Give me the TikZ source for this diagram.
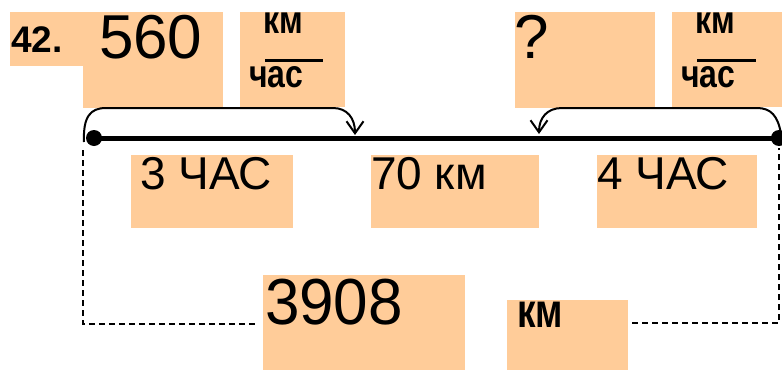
\documentclass[tikz,border=0pt]{standalone}
\usepackage{fontspec}
\setmainfont{Liberation Sans}
\usetikzlibrary{arrows.meta}
\definecolor{boxfill}{RGB}{255,204,153}
\begin{document}
\begin{tikzpicture}[x=1pt,y=-1pt,
  box/.style={fill=boxfill, draw=none, inner sep=0pt, outer sep=0pt, anchor=north west},
  lbl/.style={inner sep=0pt, outer sep=0pt, anchor=base west},
  big/.style={font=\fontsize{62}{62}\selectfont},
  mid/.style={font=\fontsize{46}{46}\selectfont},
  unit/.style={font=\bfseries\fontsize{32}{32}\selectfont},
  brace/.style={line width=2pt, -{Straight Barb[length=12pt,width=17pt,line width=2pt]}},
  dashline/.style={line width=1.5pt, dash pattern=on 6pt off 4pt},
  fracbar/.style={line width=3pt},
  dot/.style={circle, fill=black, inner sep=0pt, minimum size=16pt}]
\useasboundingbox (0,0) rectangle (782,370);
% boxes
\node[box, minimum width=73pt, minimum height=54pt] (b42) at (10,12) {};
\node[box, minimum width=140pt, minimum height=96pt] (b560) at (83,12) {};
\node[box, minimum width=105pt, minimum height=95pt] (bu1) at (240,12) {};
\node[box, minimum width=140pt, minimum height=96pt] (bq) at (515,12) {};
\node[box, minimum width=110pt, minimum height=95pt] (bu2) at (672,12) {};
\node[box, minimum width=162pt, minimum height=73pt] (b3) at (131,155) {};
\node[box, minimum width=168pt, minimum height=73pt] (b70) at (371,155) {};
\node[box, minimum width=160pt, minimum height=73pt] (b4) at (597,155) {};
\node[box, minimum width=202pt, minimum height=95pt] (b3908) at (263,275) {};
\node[box, minimum width=121pt, minimum height=70pt] (bkm) at (507,300) {};
% texts
\node[lbl, font=\bfseries\fontsize{37}{37}\selectfont] (t42) at (11,52) {42.};
\node[lbl, big] (t560) at (99,58) {560};
\node[lbl, unit] (tkm1) at (263,33) {\scalebox{1}[1.22]{км}};
\node[lbl, unit] (tch1) at (249,87) {\scalebox{1}[1.22]{час}};
\node[lbl, big] (tq) at (514,58) {?};
\node[lbl, unit] (tkm2) at (695,33) {\scalebox{1}[1.22]{км}};
\node[lbl, unit] (tch2) at (681,87) {\scalebox{1}[1.22]{час}};
\node[lbl, mid] (t3) at (140,189) {3 ЧАС};
\node[lbl, mid] (t70) at (371,189) {70 км};
\node[lbl, mid] (t4) at (597,189) {4 ЧАС};
\node[lbl, big, yscale=1.05] (t3908) at (265,324) {3908};
\node[lbl, font=\bfseries\fontsize{37}{37}\selectfont] (tkm3) at (517,327) {\scalebox{1}[1.3]{км}};
% fraction bars
\draw[fracbar] (265,60) -- (323,60);
\draw[fracbar] (697,60) -- (756,60);
% main segment
\node[dot] (L) at (94,138) {};
\node[dot] (R) at (779,138) {};
\draw[line width=5pt] (L.center) -- (R.center);
% braces
\coordinate (a1) at (355,135);
\coordinate (a2) at (539,134);
\coordinate (s1) at (84,142);
\coordinate (s2) at (781,134);
\draw[brace] (s1) .. controls (83,117) and (90,108) .. (106,108) -- (333,108)
  .. controls (347,108) and (355,118) .. (a1);
\draw[brace] (s2) .. controls (778,116) and (771,108) .. (757,108) -- (562,108)
  .. controls (547,108) and (539,118) .. (a2);
% dashed connectors
\coordinate (d1) at (83,150);
\coordinate (d2) at (83,324);
\coordinate (d3) at (258,324);
\coordinate (e1) at (632,323);
\coordinate (e2) at (779,323);
\coordinate (e3) at (779,148);
\draw[dashline] (d1) -- (d2) -- (d3);
\draw[dashline] (e1) -- (e2) -- (e3);
\end{tikzpicture}
\end{document}
